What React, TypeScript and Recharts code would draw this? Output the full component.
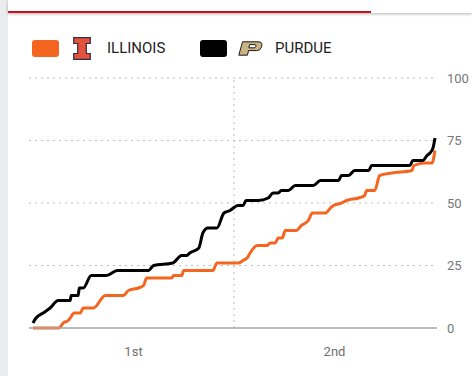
import React from "react";
import { LineChart, Line, XAxis, YAxis, CartesianGrid, ReferenceLine } from "recharts";

// game clock in minutes (0-40), score at that moment
const illinoisTime = [0, 2.6, 3.0, 3.5, 3.7, 4.1, 4.7, 5.0, 6.0, 7.2, 9.0, 9.5, 10.5, 11.0, 11.3, 13.8, 14.0, 14.8, 15.0, 17.9, 18.3, 20.4, 20.9, 21.3, 21.6, 22.3, 23.3, 23.6, 24.1, 24.4, 24.8, 25.1, 26.2, 26.7, 27.4, 27.8, 29.1, 29.6, 29.9, 30.7, 31.2, 32.4, 33.0, 33.2, 34.0, 34.5, 35.7, 37.7, 37.9, 39.0, 39.7, 40];
const illinoisScore = [0, 0, 2, 3, 4, 6, 6, 8, 8, 13, 13, 15, 16, 17, 20, 20, 21, 21, 23, 23, 26, 26, 27, 28, 30, 33, 33, 34, 34, 36, 36, 39, 39, 41, 43, 46, 46, 48, 49, 50, 51, 52, 53, 55, 55, 61, 62, 63, 65, 66, 66, 71];

const purdueTime = [0, 0.3, 1.0, 1.7, 2.5, 3.7, 3.8, 4.5, 4.6, 5.0, 5.8, 7.3, 8.4, 11.5, 12.0, 13.9, 14.8, 15.3, 15.6, 16.5, 16.9, 17.4, 18.3, 19.0, 19.6, 20.4, 20.9, 21.2, 22.4, 23.4, 23.9, 24.4, 24.7, 25.4, 26.1, 27.9, 28.6, 30.4, 30.7, 31.4, 32.0, 33.4, 33.7, 37.5, 37.8, 38.8, 39.2, 39.5, 39.8, 40];
const purdueScore = [2, 4, 6, 8, 11, 11, 13, 13, 16, 16, 21, 21, 23, 23, 25, 26, 29, 29, 30, 32, 38, 40, 40, 46, 47, 49, 49, 51, 51, 52, 54, 54, 55, 55, 57, 57, 59, 59, 61, 61, 63, 63, 65, 65, 67, 67, 69, 70, 72, 76];

const halfTicks = [10, 30];
const halfLabels = ["1st", "2nd"];
const scoreTicks = [0, 25, 50, 75, 100];

const illinoisData = illinoisTime.map((t, i) => ({ t, score: illinoisScore[i] }));
const purdueData = purdueTime.map((t, i) => ({ t, score: purdueScore[i] }));

const IllinoisLogo = () => (
  <svg width="18" height="23" viewBox="0 0 18 23">
    <path d="M0.7,0.7 H17.3 V6.5 H13.3 V16.5 H17.3 V22.3 H0.7 V16.5 H4.7 V6.5 H0.7 Z" fill="#e5533d" stroke="#2b2f4a" strokeWidth="1.2" />
  </svg>
);

const PurdueLogo = () => (
  <svg width="25" height="15" viewBox="0 0 25 15">
    <path d="M4.5,0.8 H20 Q24.6,0.8 23.8,4.4 L23.2,6.6 Q22.4,9.6 18.6,9.6 H10.6 L9.4,14.2 H0.8 Z M11.6,3.6 L10.9,6.8 H16.4 Q17.4,6.8 17.7,5.8 L17.9,4.8 Q18.1,3.6 17,3.6 Z"
      fill="#c9b283" stroke="#1a1a1a" strokeWidth="1" fillRule="evenodd" />
  </svg>
);

export default function App() {
  return (
    <div style={{ position: "absolute", left: 0, top: 0, width: 472, height: 376, background: "#fff", fontFamily: "Roboto, 'Liberation Sans', sans-serif", overflow: "hidden" }}>
      <div style={{ position: "absolute", left: 0, top: 0, width: 8, height: 376, background: "#ebecee" }} />
      <div style={{ position: "absolute", left: 8, top: 0, width: 464, height: 13, background: "#fff", boxShadow: "0 1px 3px rgba(0,0,0,0.3)" }}>
        <div style={{ position: "absolute", left: 0, top: 11, width: 363, height: 2, background: "#c8101e" }} />
      </div>

      <div style={{ position: "absolute", left: 32, top: 40, width: 27, height: 17, borderRadius: 3, background: "#f4661f" }} />
      <div style={{ position: "absolute", left: 73, top: 37 }}><IllinoisLogo /></div>
      <div style={{ position: "absolute", left: 107, top: 38, fontSize: 15, color: "#222", lineHeight: "20px" }}>ILLINOIS</div>
      <div style={{ position: "absolute", left: 200, top: 40, width: 27, height: 17, borderRadius: 3, background: "#000" }} />
      <div style={{ position: "absolute", left: 238, top: 41 }}><PurdueLogo /></div>
      <div style={{ position: "absolute", left: 275, top: 38, fontSize: 15, color: "#222", lineHeight: "20px" }}>PURDUE</div>

      <div style={{ position: "absolute", left: 0, top: 0 }}>
        <LineChart width={472} height={376} margin={{ top: 78, right: 0, left: 29, bottom: 0 }}>
          <CartesianGrid vertical={false} stroke="#bdbdbd" strokeDasharray="2 4" />
          <XAxis
            dataKey="t"
            type="number"
            domain={[0, 40]}
            padding={{ left: 4, right: 2 }}
            ticks={halfTicks}
            tickFormatter={(v: number) => halfLabels[halfTicks.indexOf(v)]}
            tickLine={false}
            tickSize={0}
            tickMargin={19}
            height={48}
            axisLine={{ stroke: "#a8a8a8", strokeWidth: 1.5 }}
            tick={{ fill: "#6f6f6f", fontSize: 13 }}
          />
          <YAxis
            orientation="right"
            type="number"
            domain={[0, 100]}
            ticks={scoreTicks}
            width={35}
            axisLine={false}
            tickLine={false}
            tickSize={0}
            tickMargin={10}
            tick={{ fill: "#777", fontSize: 13, textAnchor: "start" }}
          />
          <ReferenceLine x={20} stroke="#bdbdbd" strokeDasharray="2 4" />
          <Line data={illinoisData} dataKey="score" type="monotone" stroke="#f4661f" strokeWidth={3} dot={false} isAnimationActive={false} />
          <Line data={purdueData} dataKey="score" type="monotone" stroke="#000" strokeWidth={3} dot={false} isAnimationActive={false} />
        </LineChart>
      </div>
    </div>
  );
}
